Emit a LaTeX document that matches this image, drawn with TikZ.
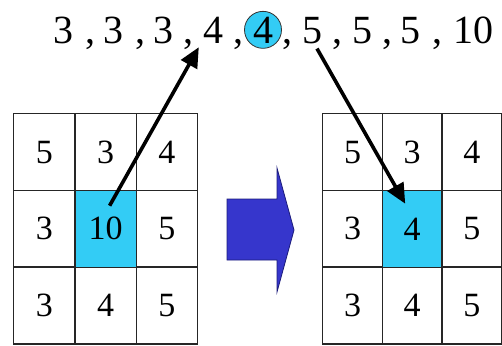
\documentclass[tikz,border=0pt]{standalone}
\usepackage{fontspec}
\setmainfont{Liberation Serif}
\newfontfamily\numfont{Liberation Serif}
\usepackage{tikz}
\usetikzlibrary{arrows.meta,calc}
\definecolor{pickcyan}{HTML}{33CCF5}
\definecolor{shiftblue}{HTML}{3636CC}
\definecolor{shiftedge}{HTML}{1C1C7A}

\begin{document}
\begin{tikzpicture}[x=1pt, y=-1pt,
    cell/.style={draw=black!85, line width=1.3pt, minimum height=77pt, inner sep=0pt, anchor=north west, font=\numfont\fontsize{34}{34}\selectfont},
    num/.style={inner sep=0pt, anchor=base, font=\numfont\fontsize{40}{40}\selectfont},
    pointer/.style={line width=3.6pt, -{Triangle[length=20pt, width=18pt]}}
]
\useasboundingbox (0,0) rectangle (502,345);
% sorted row of values
\foreach \v/\x [count=\i] in {3/63,3/113,3/163,4/213,4/263,5/312,5/362,5/410,10/473}
    \node[num] (v\i) at (\x,43) {\v};
\foreach \x [count=\i] in {90,140,188,238,287,337,387,437}
    \node[num] (c\i) at (\x,43) {,};
\node[circle, draw=black!80, line width=0.8pt, fill=pickcyan, minimum size=37pt, inner sep=0pt] (pick) at (v5.center) {};
\node[num] at (v5.base) {4};
% the two 3x3 windows
\foreach \v [count=\i from 0] in {5,3,4,3,10,5,3,4,5} {
    \pgfmathtruncatemacro\col{mod(\i,3)}
    \pgfmathtruncatemacro\row{\i/3}
    \node[cell, minimum width=61.3pt] (L\i) at (13+61.3*\col, 113+76.7*\row) {\v};
}
\foreach \v [count=\i from 0] in {5,3,4,3,4,5,3,4,5} {
    \pgfmathtruncatemacro\col{mod(\i,3)}
    \pgfmathtruncatemacro\row{\i/3}
    \node[cell, minimum width=59.7pt] (R\i) at (322+59.7*\col, 113+76.7*\row) {\v};
}
\node[cell, minimum width=61.3pt, fill=pickcyan] at (L4.north west) {10};
\node[cell, minimum width=59.7pt, fill=pickcyan] at (R4.north west) {4};
% big shift arrow
\draw[fill=shiftblue, draw=shiftedge, line width=0.8pt]
    (227,199) -- (277,199) -- (277,168) -- (294,230) -- (277,292) -- (277,260) -- (227,260) -- cycle;
% pointers
\draw[pointer] ($(L4.north)+(4,16)$) -- ($(v4.south west)+(-4,4)$);
\draw[pointer] ($(v6.south)+(5,5)$) -- ($(R4.north)+(-7,14)$);
\end{tikzpicture}
\end{document}
